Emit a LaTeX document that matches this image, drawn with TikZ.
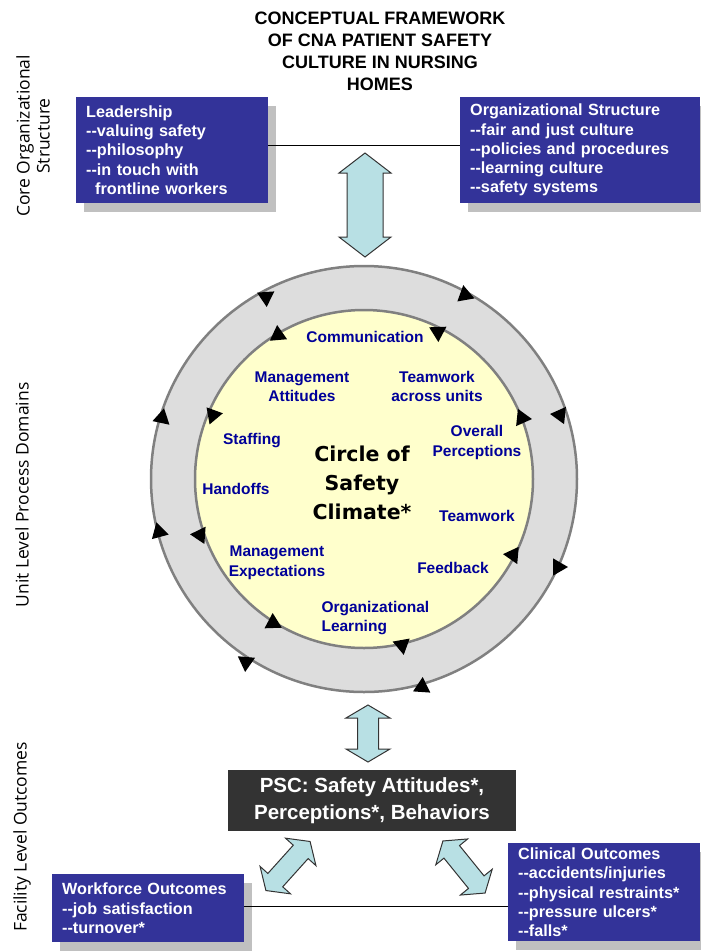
\documentclass[tikz,border=0pt]{standalone}
\usepackage{fontspec}
\setmainfont{Liberation Sans}[Ligatures=TeXOff]
\newfontfamily\sidefont{Open Sans}
\newfontfamily\climatefont{DejaVu Sans}
\usetikzlibrary{shadows}

\definecolor{boxblue}{HTML}{333399}
\definecolor{shadowgray}{HTML}{C0C0C0}
\definecolor{ringgray}{HTML}{DDDDDD}
\definecolor{ringline}{HTML}{808080}
\definecolor{paleyellow}{HTML}{FFFFCC}
\definecolor{arrowcyan}{HTML}{B8E0E4}
\definecolor{pscgray}{HTML}{333333}
\definecolor{domainblue}{HTML}{000099}

\tikzset{
  bluebox/.style={fill=boxblue, text=white, font=\bfseries\fontsize{16.2}{19.2}\selectfont,
    align=left, inner xsep=10pt, anchor=north west,
    drop shadow={shadow xshift=8pt, shadow yshift=-9pt, fill=shadowgray, opacity=1}},
  domainlabel/.style={text=domainblue, font=\bfseries\fontsize{15.5}{19.5}\selectfont, align=center},
  sidelabel/.style={rotate=90, font=\sidefont\fontsize{17.5}{20}\selectfont, align=center},
  fatarrow/.style={fill=arrowcyan, draw=black!80, line width=1pt, line join=miter},
}

% fat double arrow: x, y, angle, length, head length, head half width, shaft half width
\newcommand{\fatarrow}[7]{%
  \filldraw[fatarrow, shift={(#1,#2)}, rotate=#3]
    ({-#4/2},0) -- ({-#4/2+#5},#6) -- ({-#4/2+#5},#7) -- ({#4/2-#5},#7) -- ({#4/2-#5},#6) -- ({#4/2},0)
    -- ({#4/2-#5},-#6) -- ({#4/2-#5},-#7) -- ({-#4/2+#5},-#7) -- ({-#4/2+#5},-#6) -- cycle;}
% small triangle on the rings: x, y, angle
\newcommand{\ringtip}[3]{\fill[shift={(#1,#2)}, rotate=#3] (0:10) -- (120:10) -- (240:10) -- cycle;}

\begin{document}
\begin{tikzpicture}[x=1pt, y=1pt]
  \useasboundingbox (0,0) rectangle (701,-951);

  % title and side labels
  \node[font=\bfseries\fontsize{18}{22}\selectfont, align=center] (title) at (380,-51)
    {CONCEPTUAL FRAMEWORK\\OF CNA PATIENT SAFETY\\CULTURE IN NURSING\\HOMES};
  \node[sidelabel] (core) at (33,-136) {Core Organizational\\Structure};
  \node[sidelabel] (unit) at (22,-495) {Unit Level Process Domains};
  \node[sidelabel] (facility) at (22,-837) {Facility Level Outcomes};

  % core organizational structure
  \node[bluebox, text width=172pt, minimum height=106pt] (lead) at (76,-97)
    {Leadership\\--valuing safety\\--philosophy\\--in touch with\\\hspace*{9pt}frontline workers};
  \node[bluebox, text width=220pt, minimum height=106pt] (org) at (460,-97)
    {Organizational Structure\\--fair and just culture\\--policies and procedures\\--learning culture\\--safety systems};
  \draw[line width=1.2pt] ([yshift=5pt]lead.east) -- ([yshift=5pt]org.west);

  % circle of safety climate
  \coordinate (hub) at (364,-479);
  \draw[ringline, line width=2.5pt, fill=ringgray] (hub) circle (213pt);
  \draw[ringline, line width=2.5pt, fill=paleyellow] (hub) circle (169pt);

  % outer ring
  \ringtip{266}{-297}{34}
  \ringtip{465}{-295}{100}
  \ringtip{162}{-418}{78}
  \ringtip{159}{-532}{-15}
  \ringtip{246}{-662}{-95}
  \ringtip{422}{-687}{86}
  \ringtip{560}{-415}{174}
  \ringtip{558}{-567}{0}
  % inner ring
  \ringtip{278}{-335}{95}
  \ringtip{438}{-332}{-88}
  \ringtip{213}{-415}{10}
  \ringtip{200}{-535}{176}
  \ringtip{273}{-623}{92}
  \ringtip{402}{-645}{-80}
  \ringtip{522}{-418}{-6}
  \ringtip{513}{-555}{175}

  \node[domainlabel] (comm) at (365,-337) {Communication};
  \node[domainlabel] (mgmtatt) at (302,-386.5) {Management\\Attitudes};
  \node[domainlabel] (teamacross) at (437,-386.5) {Teamwork\\across units};
  \node[domainlabel] (staff) at (252,-441) {Staffing};
  \node[domainlabel] (overall) at (477,-442.5) {Overall\\Perceptions};
  \node[domainlabel] (handoffs) at (236,-489) {Handoffs};
  \node[domainlabel] (teamwork) at (477,-516) {Teamwork};
  \node[domainlabel] (mgmtexp) at (277,-563) {Management\\Expectations};
  \node[domainlabel] (feedback) at (453,-568) {Feedback};
  \node[domainlabel, align=left, anchor=west] (orglearn) at (318,-618) {Organizational\\Learning};
  \node[font=\climatefont\bfseries\fontsize{20.5}{29}\selectfont, align=center] (climate) at (362,-483)
    {Circle of\\Safety\\Climate*};

  % facility level outcomes
  \node[fill=pscgray, text=white, font=\bfseries\fontsize{20.5}{27}\selectfont, align=center,
    minimum width=288pt, minimum height=61pt] (psc) at (372,-800.5)
    {PSC: Safety Attitudes*,\\Perceptions*, Behaviors};
  \node[bluebox, text width=172pt, minimum height=68pt] (work) at (52,-874)
    {Workforce Outcomes\\--job satisfaction\\--turnover*};
  \node[bluebox, text width=172pt, minimum height=98pt] (clin) at (508,-843)
    {Clinical Outcomes\\--accidents/injuries\\--physical restraints*\\--pressure ulcers*\\--falls*};
  \draw[line width=1.2pt] ([yshift=2pt]work.east) -- ([yshift=2pt]work.east -| clin.west);

  % double arrows
  \fatarrow{365}{-205}{90}{104}{20}{26}{18}
  \fatarrow{368}{-733.5}{90}{57}{13}{22}{10.5}
  \fatarrow{288}{-866}{48}{66}{14}{20.5}{10}
  \fatarrow{464}{-867}{129}{67}{14}{20.5}{10}
\end{tikzpicture}
\end{document}
